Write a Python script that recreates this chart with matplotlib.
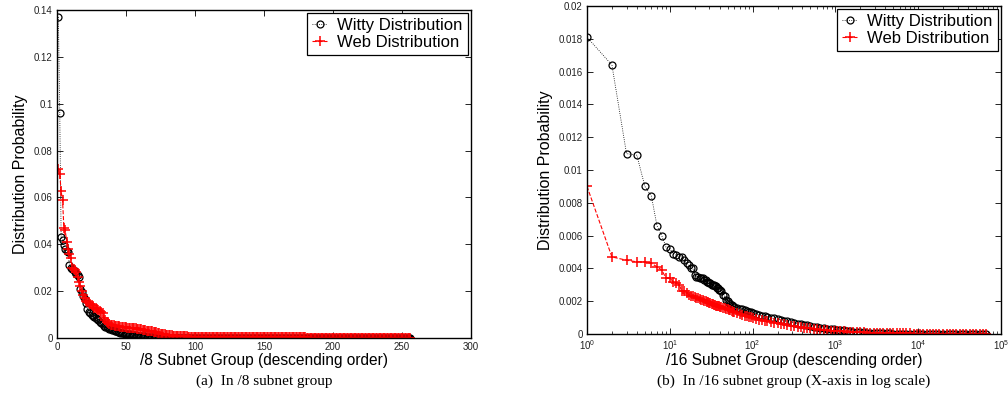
import numpy as np
import matplotlib
matplotlib.use("Agg")
import matplotlib.pyplot as plt
from matplotlib.ticker import FixedLocator, FuncFormatter, LogLocator

plt.rcParams['font.family'] = ['Liberation Sans', 'DejaVu Sans']
plt.rcParams['mathtext.fontset'] = 'custom'
plt.rcParams['mathtext.rm'] = 'Liberation Sans'

# ---- (a) /8 subnet groups: rank 1..256 ----
rank8 = np.arange(1, 257)
witty8 = [
    0.137, 0.096, 0.043, 0.042, 0.0395, 0.038, 0.037, 0.0365, 0.031, 0.030,
    0.0295, 0.029, 0.028, 0.0275, 0.027, 0.026, 0.021, 0.0195, 0.018, 0.0165,
    0.015, 0.0125, 0.0112, 0.0105, 0.0098, 0.0092, 0.0088, 0.0084, 0.0080, 0.0075,
    0.0070, 0.0064, 0.0058, 0.0053, 0.0049, 0.0046, 0.0043, 0.0040, 0.0037, 0.0035,
    0.0033, 0.0031, 0.0029, 0.0027, 0.0025, 0.0023, 0.0021, 0.0020, 0.0019, 0.0018,
    0.0017, 0.0016, 0.0015, 0.0014, 0.0013, 0.0012, 0.0011, 0.0010, 0.0009, 0.0009,
    0.0008, 0.0008, 0.0007, 0.0007, 0.0006, 0.0006, 0.0005, 0.0005, 0.0005, 0.0004,
    0.0004, 0.0004, 0.0004, 0.0003, 0.0003, 0.0003, 0.0003, 0.0003, 0.0002, 0.0002,
    2e-4, 2e-4, 2e-4, 2e-4, 2e-4, 2e-4, 2e-4, 2e-4, 2e-4, 2e-4,
    2e-4, 2e-4, 2e-4, 2e-4, 2e-4, 2e-4, 2e-4, 2e-4, 2e-4, 2e-4,
    1.5e-4, 1.5e-4, 1.5e-4, 1.5e-4, 1.5e-4, 1.5e-4, 1.5e-4, 1.5e-4, 1.5e-4, 1.5e-4,
    1.5e-4, 1.5e-4, 1.5e-4, 1.5e-4, 1.5e-4, 1.5e-4, 1.5e-4, 1.5e-4, 1.5e-4, 1.5e-4,
    1.5e-4, 1.5e-4, 1.5e-4, 1.5e-4, 1.5e-4, 1.5e-4, 1.5e-4, 1.5e-4, 1.5e-4, 1.5e-4,
    1e-4, 1e-4, 1e-4, 1e-4, 1e-4, 1e-4, 1e-4, 1e-4, 1e-4, 1e-4,
    1e-4, 1e-4, 1e-4, 1e-4, 1e-4, 1e-4, 1e-4, 1e-4, 1e-4, 1e-4,
    1e-4, 1e-4, 1e-4, 1e-4, 1e-4, 1e-4, 1e-4, 1e-4, 1e-4, 1e-4,
    1e-4, 1e-4, 1e-4, 1e-4, 1e-4, 1e-4, 1e-4, 1e-4, 1e-4, 1e-4,
    5e-5, 5e-5, 5e-5, 5e-5, 5e-5, 5e-5, 5e-5, 5e-5, 5e-5, 5e-5,
    5e-5, 5e-5, 5e-5, 5e-5, 5e-5, 5e-5, 5e-5, 5e-5, 5e-5, 5e-5,
    5e-5, 5e-5, 5e-5, 5e-5, 5e-5, 5e-5, 5e-5, 5e-5, 5e-5, 5e-5,
    5e-5, 5e-5, 5e-5, 5e-5, 5e-5, 5e-5, 5e-5, 5e-5, 5e-5, 5e-5,
    5e-5, 5e-5, 5e-5, 5e-5, 5e-5, 5e-5, 5e-5, 5e-5, 5e-5, 5e-5,
    2e-5, 2e-5, 2e-5, 2e-5, 2e-5, 2e-5, 2e-5, 2e-5, 2e-5, 2e-5,
    2e-5, 2e-5, 2e-5, 2e-5, 2e-5, 2e-5, 2e-5, 2e-5, 2e-5, 2e-5,
    2e-5, 2e-5, 2e-5, 2e-5, 2e-5, 2e-5, 2e-5, 2e-5, 2e-5, 2e-5,
    2e-5, 2e-5, 2e-5, 2e-5, 2e-5, 2e-5,
]
web8 = [
    0.072, 0.070, 0.0626, 0.059, 0.047, 0.046, 0.041, 0.038, 0.036, 0.034,
    0.030, 0.0295, 0.029, 0.028, 0.026, 0.024, 0.022, 0.020, 0.0185, 0.017,
    0.016, 0.0155, 0.015, 0.0145, 0.014, 0.0135, 0.013, 0.0128, 0.0125, 0.012,
    0.0115, 0.011, 0.0105, 0.0085, 0.0075, 0.007, 0.0065, 0.006, 0.0057, 0.0055,
    0.0054, 0.0053, 0.0052, 0.0051, 0.0050, 0.0049, 0.0048, 0.0047, 0.0046, 0.0045,
    0.0044, 0.0043, 0.0043, 0.0042, 0.0042, 0.0041, 0.0041, 0.0040, 0.0040, 0.0039,
    0.0037, 0.0035, 0.0034, 0.0033, 0.0032, 0.0031, 0.0030, 0.0029, 0.0028, 0.0027,
    0.0026, 0.0024, 0.0022, 0.0020, 0.0019, 0.0017, 0.0016, 0.0015, 0.0014, 0.0013,
    0.0012, 0.0011, 0.0011, 0.0010, 0.0010, 0.0009, 0.0009, 0.0008, 0.0008, 0.0008,
    0.0007, 0.0007, 0.0007, 0.0007, 0.0006, 0.0006, 0.0006, 0.0006, 0.0006, 0.0006,
    5e-4, 5e-4, 5e-4, 5e-4, 5e-4, 5e-4, 5e-4, 5e-4, 5e-4, 5e-4,
    5e-4, 5e-4, 5e-4, 5e-4, 5e-4, 5e-4, 5e-4, 5e-4, 5e-4, 5e-4,
    4e-4, 4e-4, 4e-4, 4e-4, 4e-4, 4e-4, 4e-4, 4e-4, 4e-4, 4e-4,
    4e-4, 4e-4, 4e-4, 4e-4, 4e-4, 4e-4, 4e-4, 4e-4, 4e-4, 4e-4,
    4e-4, 4e-4, 4e-4, 4e-4, 4e-4, 4e-4, 4e-4, 4e-4, 4e-4, 4e-4,
    3e-4, 3e-4, 3e-4, 3e-4, 3e-4, 3e-4, 3e-4, 3e-4, 3e-4, 3e-4,
    3e-4, 3e-4, 3e-4, 3e-4, 3e-4, 3e-4, 3e-4, 3e-4, 3e-4, 3e-4,
    3e-4, 3e-4, 3e-4, 3e-4, 3e-4, 3e-4, 3e-4, 3e-4, 3e-4, 3e-4,
    2e-4, 2e-4, 2e-4, 2e-4, 2e-4, 2e-4, 2e-4, 2e-4, 2e-4, 2e-4,
    2e-4, 2e-4, 2e-4, 2e-4, 2e-4, 2e-4, 2e-4, 2e-4, 2e-4, 2e-4,
    2e-4, 2e-4, 2e-4, 2e-4, 2e-4, 2e-4, 2e-4, 2e-4, 2e-4, 2e-4,
    2e-4, 2e-4, 2e-4, 2e-4, 2e-4, 2e-4, 2e-4, 2e-4, 2e-4, 2e-4,
    1e-4, 1e-4, 1e-4, 1e-4, 1e-4, 1e-4, 1e-4, 1e-4, 1e-4, 1e-4,
    1e-4, 1e-4, 1e-4, 1e-4, 1e-4, 1e-4, 1e-4, 1e-4, 1e-4, 1e-4,
    1e-4, 1e-4, 1e-4, 1e-4, 1e-4, 1e-4, 1e-4, 1e-4, 1e-4, 1e-4,
    1e-4, 1e-4, 1e-4, 1e-4, 1e-4, 1e-4,
]

# ---- (b) /16 subnet groups: sampled ranks 1..65536 ----
rank16 = (list(range(1, 41)) + list(range(42, 61, 2)) + list(range(65, 101, 5)) + [
    110, 120, 130, 140, 150, 165, 180, 200, 220, 240,
    260, 290, 320, 350, 380, 420, 460, 500, 550, 600,
    660, 720, 800, 880, 960, 1050, 1150, 1260, 1380, 1500,
    1650, 1800, 2000, 2200, 2400, 2600, 2900, 3200, 3500, 3800,
    4200, 4600, 5000, 5500, 6000, 6600, 7200, 8000, 8800, 9600,
    10500, 11500, 12600, 13800, 15000, 16500, 18000, 20000, 22000, 24000,
    26000, 29000, 32000, 35000, 38000, 42000, 46000, 50000, 55000, 60000,
    65536])
witty16 = [
    0.0181, 0.0164, 0.0110, 0.0109, 0.0090, 0.0084, 0.0066, 0.0060, 0.0053, 0.0052,
    0.0049, 0.0048, 0.0047, 0.0047, 0.0045, 0.0043, 0.0042, 0.0040, 0.0040, 0.0036,
    0.0035, 0.0035, 0.0034, 0.0034, 0.0034, 0.0033, 0.0033, 0.0032, 0.0032, 0.0031,
    0.0031, 0.0030, 0.0030, 0.0030, 0.0029, 0.0029, 0.0028, 0.0028, 0.0027, 0.0027,
    0.0026, 0.0024, 0.0023, 0.0021, 0.0020, 0.0019, 0.0018, 0.00175, 0.0017, 0.00165,
    0.0016, 0.00155, 0.0015, 0.00145, 0.0014, 0.00136, 0.00132, 0.00128,
    0.00122, 0.00117, 0.00112, 0.00108, 0.00104, 0.00099, 0.00095, 0.0009, 0.00085, 0.00081,
    0.00077, 0.00072, 0.00068, 0.00064, 0.0006, 0.00056, 0.00052, 0.00049, 0.00045, 0.00042,
    0.00039, 0.00036, 0.00033, 0.0003, 0.00028, 0.00026, 0.00024, 0.00022, 0.0002, 0.00018,
    0.00015, 0.00013, 0.00011, 0.0001, 0.00009, 0.00008, 0.00007, 0.00006, 0.00005, 0.000045,
    0.00004, 0.000035, 0.00003, 0.000025, 0.00002, 0.000018, 0.000016, 0.000014, 0.000012, 0.000011,
    0.00001, 0.000009, 0.000008, 0.000007, 0.000006, 0.000005, 0.000005, 0.000004, 0.000004, 0.000003,
    0.000003, 0.000003, 0.000002, 0.000002, 0.000002, 0.000002, 0.000001, 0.000001, 0.000001, 0.000001,
    0.000001,
]
web16 = [
    0.0090, 0.0047, 0.0045, 0.0044, 0.0044, 0.0043, 0.0041, 0.0039, 0.0034, 0.0034,
    0.0032, 0.0031, 0.0030, 0.0026, 0.0026, 0.0025, 0.0024, 0.0023, 0.0023, 0.00225,
    0.0022, 0.0022, 0.00215, 0.0021, 0.00205, 0.0020, 0.0020, 0.00197, 0.00193, 0.0019,
    0.00187, 0.00184, 0.0018, 0.00178, 0.00175, 0.00173, 0.0017, 0.00169, 0.00168, 0.00167,
    0.00163, 0.0016, 0.00157, 0.00154, 0.0015, 0.00147, 0.00144, 0.0014, 0.00136, 0.00133,
    0.00127, 0.0012, 0.00116, 0.00112, 0.00108, 0.00105, 0.00101, 0.00098,
    0.00093, 0.00088, 0.00085, 0.00081, 0.00078, 0.00074, 0.0007, 0.00065, 0.00061, 0.00058,
    0.00055, 0.00051, 0.00048, 0.00045, 0.00042, 0.00039, 0.00036, 0.00034, 0.00031, 0.00029,
    0.00027, 0.00025, 0.00023, 0.00021, 0.0002, 0.00018, 0.00017, 0.00016, 0.00015, 0.00014,
    0.00013, 0.00012, 0.00011, 0.0001, 0.00009, 0.000085, 0.00008, 0.000075, 0.00007, 0.000065,
    0.00006, 0.000055, 0.00005, 0.000045, 0.00004, 0.000037, 0.000034, 0.000031, 0.000028, 0.000025,
    0.000023, 0.000021, 0.000019, 0.000017, 0.000015, 0.000013, 0.000012, 0.000011, 0.00001, 0.000009,
    0.000008, 0.000007, 0.000006, 0.000005, 0.000005, 0.000004, 0.000004, 0.000003, 0.000003, 0.000002,
    0.000002,
]

yticks8 = [0, 0.02, 0.04, 0.06, 0.08, 0.1, 0.12, 0.14]
xticks8 = [0, 50, 100, 150, 200, 250, 300]
yticks16 = [0, 0.002, 0.004, 0.006, 0.008, 0.01, 0.012, 0.014, 0.016, 0.018, 0.02]

fig = plt.figure(figsize=(10.08, 4.03), dpi=100)
ax1 = fig.add_axes([57 / 1008, 65 / 403, 414 / 1008, 328 / 403])
ax2 = fig.add_axes([587 / 1008, 69 / 403, 414 / 1008, 328 / 403])

witty_style = dict(color='black', ls=':', lw=0.6, marker='o', mfc='none',
                   mec='black', ms=5, mew=0.9)
web_style = dict(color='red', ls='--', lw=0.8, marker='+', mec='red', ms=6.5, mew=1.1)

for ax, x, w, b in [(ax1, rank8, witty8, web8), (ax2, rank16, witty16, web16)]:
    ax.plot(x, w, label='Witty Distribution', **witty_style)
    ax.plot(x, b, label='Web Distribution', **web_style)
    ax.tick_params(which='both', direction='in', top=True, right=True,
                   labelsize=7, labelcolor='#222222', pad=3)
    ax.tick_params(which='major', length=4, width=0.6)
    ax.tick_params(which='minor', length=2, width=0.5)
    for s in ax.spines.values():
        s.set_linewidth(1.0)
    ax.set_ylabel('Distribution Probability', fontsize=11.5, labelpad=4)
    leg = ax.legend(loc='upper right', fontsize=12, fancybox=False, edgecolor='black',
                    framealpha=1, handlelength=0.9, handletextpad=0.6, borderpad=0.3,
                    labelspacing=0.12, borderaxespad=0.2, numpoints=1)
    leg.get_frame().set_linewidth(0.9)

fmt = FuncFormatter(lambda v, p: f"{v:g}")

ax1.set_xlim(0, 300)
ax1.set_ylim(0, 0.14)
ax1.xaxis.set_major_locator(FixedLocator(xticks8))
ax1.yaxis.set_major_locator(FixedLocator(yticks8))
ax1.yaxis.set_major_formatter(fmt)
ax1.set_xlabel('/8 Subnet Group (descending order)', fontsize=11.2, labelpad=0.5)

ax2.set_xscale('log')
ax2.set_xlim(1, 1e5)
ax2.set_ylim(0, 0.02)
ax2.xaxis.set_major_locator(LogLocator(base=10, numticks=10))
ax2.xaxis.set_minor_locator(LogLocator(base=10, subs=np.arange(2, 10), numticks=20))
ax2.yaxis.set_major_locator(FixedLocator(yticks16))
ax2.yaxis.set_major_formatter(fmt)
ax2.set_xlabel('/16 Subnet Group (descending order)', fontsize=11.2, labelpad=0.5)

fig.text(264 / 1008, 22 / 403, '(a)  In /8 subnet group', ha='center', va='center',
         fontsize=11, family='Liberation Serif')
fig.text(794 / 1008, 22 / 403, '(b)  In /16 subnet group (X-axis in log scale)',
         ha='center', va='center', fontsize=11, family='Liberation Serif')

fig.savefig('out.png', dpi=100)
